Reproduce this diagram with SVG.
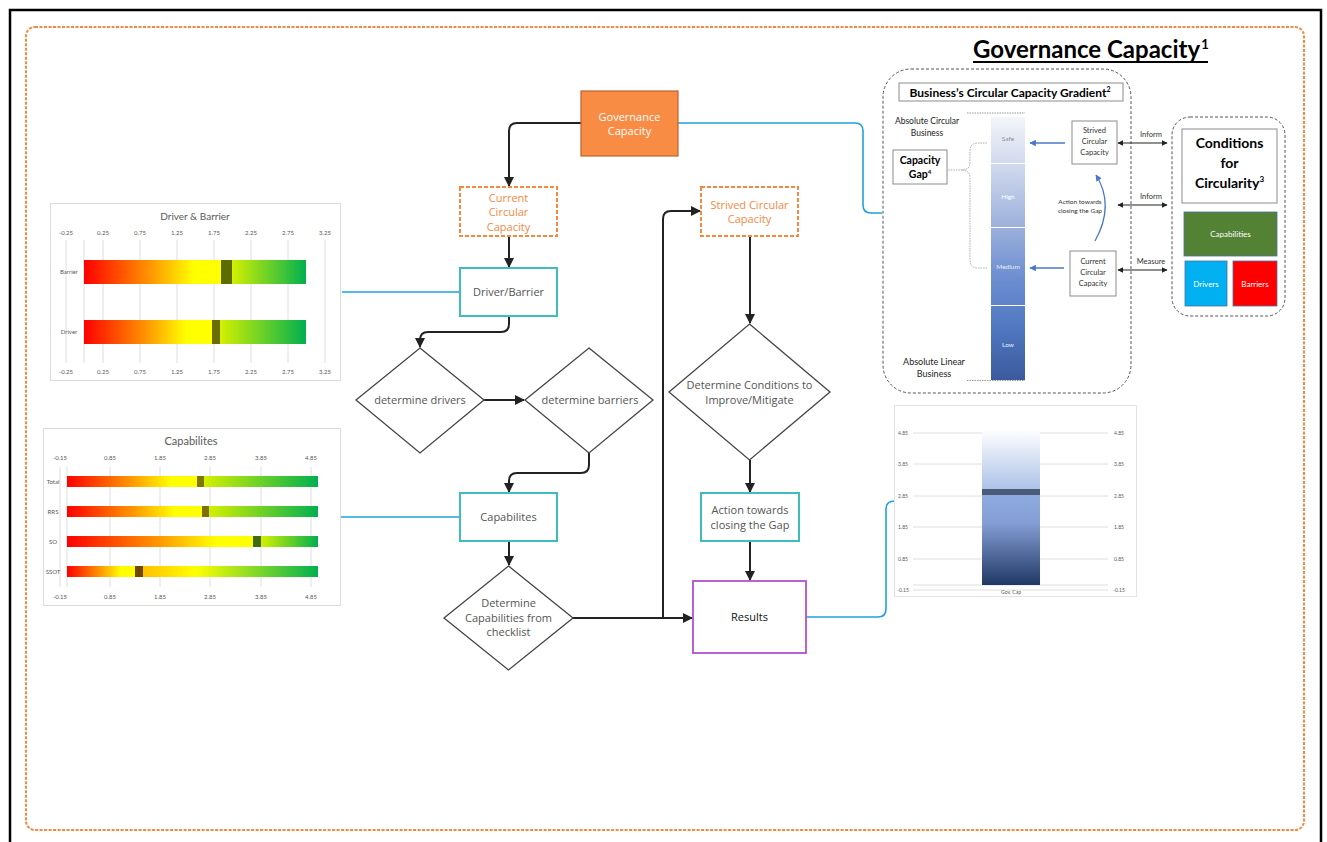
<svg xmlns="http://www.w3.org/2000/svg" width="1327" height="842" viewBox="0 0 1327 842">
  <defs>
    <style>
      .fc { font-family: "Open Sans", "Liberation Sans", sans-serif; font-size: 11px; fill: #555; text-anchor: middle; }
      .cal { font-family: Lato, "Liberation Sans", sans-serif; text-anchor: middle; }
      .conn { fill: none; stroke: #222; stroke-width: 2; marker-end: url(#ah); }
      .link { fill: none; stroke: #1fa2dc; stroke-width: 1.6; }
      .grid { stroke: #dedede; stroke-width: 1; }
      .ax { font-family: Lato, "Liberation Sans", sans-serif; font-size: 6px; fill: #595959; text-anchor: middle; }
      .teal { fill: #fff; stroke: #3dbdbd; stroke-width: 2; }
      .dorange { fill: #fff; stroke: #f7883f; stroke-width: 2; stroke-dasharray: 4 2; }
      .diam { fill: #fff; stroke: #444; stroke-width: 1.3; }
      .pbox { fill: #fff; stroke: #8c8c8c; stroke-width: 1; }
      .dbl { stroke: #222; stroke-width: 1.2; marker-start: url(#dh); marker-end: url(#dh); }
      .blu { fill: none; stroke: #4a78c8; stroke-width: 1.3; marker-end: url(#bh); }
    </style>
    <marker id="ah" viewBox="0 0 10 10" refX="9" refY="5" markerWidth="5" markerHeight="5" markerUnits="strokeWidth" orient="auto">
      <path d="M0,0 L10,5 L0,10 Z" fill="#222"/>
    </marker>
    <marker id="dh" viewBox="0 0 10 10" refX="9" refY="5" markerWidth="5" markerHeight="5" orient="auto-start-reverse">
      <path d="M0,0 L10,5 L0,10 Z" fill="#222"/>
    </marker>
    <marker id="bh" viewBox="0 0 10 10" refX="9" refY="5" markerWidth="5" markerHeight="5" orient="auto">
      <path d="M0,0 L10,5 L0,10 Z" fill="#4a78c8"/>
    </marker>
    <linearGradient id="gL" x1="0" y1="0" x2="1" y2="0">
      <stop offset="0" stop-color="#ff0000"/>
      <stop offset="0.5" stop-color="#ff9a00"/>
      <stop offset="0.8" stop-color="#ffff00"/>
      <stop offset="1" stop-color="#ffff00"/>
    </linearGradient>
    <linearGradient id="gR" x1="0" y1="0" x2="1" y2="0">
      <stop offset="0" stop-color="#d4f000"/>
      <stop offset="1" stop-color="#00b050"/>
    </linearGradient>
    <linearGradient id="gR2" x1="0" y1="0" x2="1" y2="0">
      <stop offset="0" stop-color="#ffc000"/>
      <stop offset="0.3" stop-color="#ffff00"/>
      <stop offset="1" stop-color="#00b050"/>
    </linearGradient>
    <linearGradient id="gGov" x1="0" y1="0" x2="0" y2="1">
      <stop offset="0" stop-color="#ffffff"/>
      <stop offset="0.38" stop-color="#aec3e8"/>
      <stop offset="0.42" stop-color="#8eabdf"/>
      <stop offset="0.6" stop-color="#859fd6"/>
      <stop offset="1" stop-color="#1f3864"/>
    </linearGradient>
    <linearGradient id="gBar" gradientUnits="userSpaceOnUse" x1="0" y1="117" x2="0" y2="380">
      <stop offset="0" stop-color="#f3f5fa"/>
      <stop offset="0.2" stop-color="#cdd6ec"/>
      <stop offset="0.42" stop-color="#9cb0dc"/>
      <stop offset="0.6" stop-color="#6f90d2"/>
      <stop offset="0.8" stop-color="#5078c2"/>
      <stop offset="1" stop-color="#3b5a9c"/>
    </linearGradient>
  </defs>

  <rect width="1327" height="842" fill="#fff"/>
  <!-- page frame -->
  <path d="M10,850 V10 H1321 V850" fill="none" stroke="#000" stroke-width="2.5"/>
  <rect x="26" y="27" width="1278" height="803" rx="9" fill="none" stroke="#f7883f" stroke-width="2" stroke-dasharray="3 1.5"/>

  <!-- title -->
  <g id="title">
    <text x="973" y="58" font-family="Lato, 'Liberation Sans', sans-serif" font-weight="bold" font-size="24" fill="#000">Governance Capacity<tspan font-size="13" dx="1" dy="-9">1</tspan></text>
    <line x1="973" y1="62" x2="1208" y2="62" stroke="#000" stroke-width="2"/>
  </g>

  <!-- connectors -->
  <g id="connectors">
    <path class="link" d="M678,123 H855 Q863,123 863,131 V205 Q863,213 871,213 H882"/>
    <path class="link" d="M460,292 H342"/>
    <path class="link" d="M460,517 H340"/>
    <path class="link" d="M806,617 H878 Q886,617 886,609 V509 Q886,501 895,501"/>

    <path class="conn" d="M581,123 H517 Q509,123 509,131 V186"/>
    <path class="conn" d="M509,236 V267"/>
    <path class="conn" d="M509,316 V324 Q509,332 501,332 H428 Q420,332 420,340 V347"/>
    <path class="conn" d="M484,400 H524"/>
    <path class="conn" d="M589,453 V465 Q589,473 581,473 H517 Q509,473 509,481 V492"/>
    <path class="conn" d="M509,541 V565"/>
    <path class="conn" d="M573,618 H692"/>
    <path class="conn" d="M663,618 V219 Q663,211 671,211 H700"/>
    <path class="conn" d="M750,236 V323"/>
    <path class="conn" d="M750,460 V492"/>
    <path class="conn" d="M750,541 V580"/>
  </g>

  <!-- flowchart nodes -->
  <g id="n-governance">
    <rect x="581" y="91" width="97" height="65" fill="#f98c44" stroke="#c2612a" stroke-width="1.2"/>
    <text class="fc" x="629.5" y="121" style="fill:#fff">Governance</text>
    <text class="fc" x="629.5" y="135" style="fill:#fff">Capacity</text>
  </g>
  <g id="n-current">
    <rect class="dorange" x="460" y="187" width="97" height="49"/>
    <text class="fc" x="508.5" y="202" style="fill:#f7883f">Current</text>
    <text class="fc" x="508.5" y="216" style="fill:#f7883f">Circular</text>
    <text class="fc" x="508.5" y="231" style="fill:#f7883f">Capacity</text>
  </g>
  <g id="n-strived">
    <rect class="dorange" x="701" y="187" width="97" height="49"/>
    <text class="fc" x="749.5" y="209" style="fill:#f7883f">Strived Circular</text>
    <text class="fc" x="749.5" y="223" style="fill:#f7883f">Capacity</text>
  </g>
  <g id="n-driverbarrier">
    <rect class="teal" x="460" y="268" width="97" height="48"/>
    <text class="fc" x="508.5" y="296">Driver/Barrier</text>
  </g>
  <g id="n-drivers">
    <path class="diam" d="M420,348 L484,400 L420,453 L356,400 Z"/>
    <text class="fc" x="420" y="404">determine drivers</text>
  </g>
  <g id="n-barriers">
    <path class="diam" d="M589,348 L653,400 L589,453 L525,400 Z"/>
    <text class="fc" x="590" y="404">determine barriers</text>
  </g>
  <g id="n-capabilites">
    <rect class="teal" x="460" y="493" width="97" height="48"/>
    <text class="fc" x="508.5" y="521">Capabilites</text>
  </g>
  <g id="n-checklist">
    <path class="diam" d="M508.5,566 L573,618 L508.5,670 L444,618 Z"/>
    <text class="fc" x="508.5" y="607">Determine</text>
    <text class="fc" x="508.5" y="622">Capabilities from</text>
    <text class="fc" x="508.5" y="636">checklist</text>
  </g>
  <g id="n-conditions">
    <path class="diam" d="M749.5,324 L830,392 L749.5,460 L669,392 Z"/>
    <text class="fc" x="749.5" y="389">Determine Conditions to</text>
    <text class="fc" x="749.5" y="404">Improve/Mitigate</text>
  </g>
  <g id="n-action">
    <rect class="teal" x="701" y="493" width="98" height="48"/>
    <text class="fc" x="750" y="514">Action towards</text>
    <text class="fc" x="750" y="529">closing the Gap</text>
  </g>
  <g id="n-results">
    <rect x="693" y="581" width="113" height="72" fill="#fff" stroke="#b54fd1" stroke-width="1.8"/>
    <text class="fc" x="749.5" y="621" style="fill:#111">Results</text>
  </g>

  <!-- Driver & Barrier chart -->
  <g id="chart-driver-barrier">
    <rect x="50.5" y="203.5" width="290" height="177" fill="#fff" stroke="#dcdcdc"/>
    <text class="cal" x="195" y="220" font-size="10" fill="#595959">Driver &amp; Barrier</text>
    <g class="grid">
      <line x1="66" y1="240" x2="66" y2="363"/><line x1="103" y1="240" x2="103" y2="363"/>
      <line x1="140" y1="240" x2="140" y2="363"/><line x1="177" y1="240" x2="177" y2="363"/>
      <line x1="214" y1="240" x2="214" y2="363"/><line x1="251" y1="240" x2="251" y2="363"/>
      <line x1="288" y1="240" x2="288" y2="363"/><line x1="325" y1="240" x2="325" y2="363"/>
      <line x1="84" y1="240" x2="84" y2="363"/>
    </g>
    <g class="ax">
      <text x="66" y="235">-0.25</text><text x="103" y="235">0.25</text><text x="140" y="235">0.75</text>
      <text x="177" y="235">1.25</text><text x="214" y="235">1.75</text><text x="251" y="235">2.25</text>
      <text x="288" y="235">2.75</text><text x="325" y="235">3.25</text>
      <text x="66" y="374">-0.25</text><text x="103" y="374">0.25</text><text x="140" y="374">0.75</text>
      <text x="177" y="374">1.25</text><text x="214" y="374">1.75</text><text x="251" y="374">2.25</text>
      <text x="288" y="374">2.75</text><text x="325" y="374">3.25</text>
      <text x="69" y="274">Barrier</text>
      <text x="69" y="334">Driver</text>
    </g>
    <rect x="84" y="260" width="137" height="24" fill="url(#gL)"/>
    <rect x="221" y="260" width="11" height="24" fill="#5d6c00"/>
    <rect x="232" y="260" width="74" height="24" fill="url(#gR)"/>
    <rect x="84" y="320" width="128" height="24" fill="url(#gL)"/>
    <rect x="212" y="320" width="8" height="24" fill="#6b6d00"/>
    <rect x="220" y="320" width="86" height="24" fill="url(#gR)"/>
  </g>

  <!-- Capabilites chart -->
  <g id="chart-capabilites">
    <rect x="43.5" y="428.5" width="297" height="177" fill="#fff" stroke="#dcdcdc"/>
    <text class="cal" x="191" y="445" font-size="11" fill="#595959">Capabilites</text>
    <g class="grid">
      <line x1="60" y1="467" x2="60" y2="587"/><line x1="67" y1="467" x2="67" y2="587"/>
      <line x1="110" y1="467" x2="110" y2="587"/><line x1="160" y1="467" x2="160" y2="587"/>
      <line x1="210" y1="467" x2="210" y2="587"/><line x1="261" y1="467" x2="261" y2="587"/>
      <line x1="311" y1="467" x2="311" y2="587"/>
    </g>
    <g class="ax">
      <text x="60" y="460">-0.15</text><text x="110" y="460">0.85</text><text x="160" y="460">1.85</text>
      <text x="210" y="460">2.85</text><text x="261" y="460">3.85</text><text x="311" y="460">4.85</text>
      <text x="60" y="599">-0.15</text><text x="110" y="599">0.85</text><text x="160" y="599">1.85</text>
      <text x="210" y="599">2.85</text><text x="261" y="599">3.85</text><text x="311" y="599">4.85</text>
      <text x="53" y="484">Total</text><text x="53" y="514">RRS</text>
      <text x="53" y="544">SO</text><text x="53" y="574">SSOT</text>
    </g>
    <rect x="67" y="476" width="130" height="11" fill="url(#gL)"/>
    <rect x="197" y="476" width="7" height="11" fill="#7f7800"/>
    <rect x="204" y="476" width="114" height="11" fill="url(#gR)"/>
    <rect x="67" y="506" width="135" height="11" fill="url(#gL)"/>
    <rect x="202" y="506" width="7" height="11" fill="#7a6f00"/>
    <rect x="209" y="506" width="109" height="11" fill="url(#gR)"/>
    <rect x="67" y="536" width="186" height="11" fill="url(#gL)"/>
    <rect x="253" y="536" width="8" height="11" fill="#3f6a12"/>
    <rect x="261" y="536" width="57" height="11" fill="url(#gR)"/>
    <rect x="67" y="566" width="68" height="11" fill="url(#gL)"/>
    <rect x="135" y="566" width="8" height="11" fill="#6e4800"/>
    <rect x="143" y="566" width="175" height="11" fill="url(#gR2)"/>
  </g>

  <!-- Gov. Cap chart -->
  <g id="chart-govcap">
    <rect x="894.5" y="405.5" width="242" height="191" fill="#fff" stroke="#e2e2e2"/>
    <g class="grid">
      <line x1="913" y1="433" x2="1108" y2="433"/><line x1="913" y1="464" x2="1108" y2="464"/>
      <line x1="913" y1="496" x2="1108" y2="496"/><line x1="913" y1="527" x2="1108" y2="527"/>
      <line x1="913" y1="559" x2="1108" y2="559"/><line x1="913" y1="590" x2="1108" y2="590"/>
      <line x1="913" y1="585" x2="1108" y2="585"/>
    </g>
    <g class="ax" style="font-size:5px">
      <text x="903" y="435">4.85</text><text x="903" y="466">3.85</text><text x="903" y="498">2.85</text>
      <text x="903" y="529">1.85</text><text x="903" y="561">0.85</text><text x="903" y="592">-0.15</text>
      <text x="1119" y="435">4.85</text><text x="1119" y="466">3.85</text><text x="1119" y="498">2.85</text>
      <text x="1119" y="529">1.85</text><text x="1119" y="561">0.85</text><text x="1119" y="592">-0.15</text>
      <text x="1011" y="594">Gov. Cap</text>
    </g>
    <rect x="982" y="429" width="58" height="156" fill="url(#gGov)"/>
    <rect x="982" y="489" width="58" height="6" fill="#4c5b7a"/>
  </g>

  <!-- capacity gradient panel -->
  <g id="gradient-panel">
    <rect x="883" y="69" width="248" height="324" rx="28" fill="none" stroke="#555" stroke-width="1" stroke-dasharray="3 2"/>
    <rect class="pbox" x="899" y="83" width="224" height="18"/>
    <text class="cal" x="1010" y="96.5" font-size="12" font-weight="bold" fill="#000">Business’s Circular Capacity Gradient<tspan font-size="7" dy="-4.5">2</tspan></text>
    <text class="cal" x="927" y="124" font-size="8.5" fill="#222">Absolute Circular</text>
    <text class="cal" x="927" y="136" font-size="8.5" fill="#222">Business</text>
    <text class="cal" x="934" y="365" font-size="9" fill="#222">Absolute Linear</text>
    <text class="cal" x="934" y="377" font-size="9" fill="#222">Business</text>
    <line x1="967" y1="113" x2="1025" y2="113" stroke="#999" stroke-width="1" stroke-dasharray="1.5 1"/>
    <line x1="967" y1="380.5" x2="1025" y2="380.5" stroke="#999" stroke-width="1" stroke-dasharray="1.5 1"/>
    <rect x="991" y="117" width="34" height="263" fill="url(#gBar)"/>
    <line x1="991" y1="163.5" x2="1025" y2="163.5" stroke="#fff" stroke-width="1"/>
    <line x1="991" y1="227.5" x2="1025" y2="227.5" stroke="#fff" stroke-width="1"/>
    <line x1="991" y1="305.5" x2="1025" y2="305.5" stroke="#fff" stroke-width="1"/>
    <text class="cal" x="1008" y="141" font-size="6.5" fill="#8a8a8a">Safe</text>
    <text class="cal" x="1008" y="199" font-size="6.5" fill="#fff">High</text>
    <text class="cal" x="1008" y="269" font-size="6.5" fill="#e8eef8">Medium</text>
    <text class="cal" x="1008" y="347" font-size="6.5" fill="#e8eef8">Low</text>
    <path d="M987,143 H978 Q970,143 970,151 V162 Q970,170 962,170 H947 M962,170 Q970,170 970,178 V260 Q970,268 978,268 H987" fill="none" stroke="#aaa" stroke-width="1" stroke-dasharray="1.5 1"/>
    <g id="n-capacity-gap">
      <rect class="pbox" x="893" y="150" width="54" height="34"/>
      <text class="cal" x="920" y="164" font-size="10.5" font-weight="bold" fill="#000">Capacity</text>
      <text class="cal" x="920" y="178" font-size="10.5" font-weight="bold" fill="#000">Gap<tspan font-size="6" dy="-4">4</tspan></text>
    </g>
    <g id="n-strived-small">
      <rect class="pbox" x="1072" y="121" width="45" height="43"/>
      <text class="cal" x="1094.5" y="133" font-size="7.5" fill="#333">Strived</text>
      <text class="cal" x="1094.5" y="144" font-size="7.5" fill="#333">Circular</text>
      <text class="cal" x="1094.5" y="155" font-size="7.5" fill="#333">Capacity</text>
    </g>
    <g id="n-current-small">
      <rect class="pbox" x="1070" y="251" width="46" height="45"/>
      <text class="cal" x="1093" y="264" font-size="7.5" fill="#333">Current</text>
      <text class="cal" x="1093" y="275" font-size="7.5" fill="#333">Circular</text>
      <text class="cal" x="1093" y="286" font-size="7.5" fill="#333">Capacity</text>
    </g>
    <path class="blu" d="M1065,143 H1030"/>
    <path class="blu" d="M1064,268 H1030"/>
    <path class="blu" d="M1095,241 Q1115,205 1096,175"/>
    <text class="cal" x="1080" y="204" font-size="6.5" fill="#333">Action towards</text>
    <text class="cal" x="1080" y="213" font-size="6.5" fill="#333">closing the Gap</text>
  </g>

  <!-- inform / measure links -->
  <g id="links-conditions">
    <line class="dbl" x1="1118" y1="143" x2="1167" y2="143"/>
    <line class="dbl" x1="1118" y1="205" x2="1167" y2="205"/>
    <line class="dbl" x1="1118" y1="270" x2="1167" y2="270"/>
    <text class="cal" x="1151" y="137" font-size="7.5" fill="#333">Inform</text>
    <text class="cal" x="1151" y="199" font-size="7.5" fill="#333">Inform</text>
    <text class="cal" x="1151" y="264" font-size="7.5" fill="#333">Measure</text>
  </g>

  <!-- conditions panel -->
  <g id="conditions-panel">
    <rect x="1172" y="117" width="113" height="199" rx="18" fill="none" stroke="#555" stroke-width="1" stroke-dasharray="3 2"/>
    <rect class="pbox" x="1182" y="129" width="95" height="74"/>
    <text class="cal" x="1229.5" y="148" font-size="14" font-weight="bold" fill="#000">Conditions</text>
    <text class="cal" x="1229.5" y="168" font-size="14" font-weight="bold" fill="#000">for</text>
    <text class="cal" x="1229.5" y="188" font-size="14" font-weight="bold" fill="#000">Circularity<tspan font-size="8" dy="-6">3</tspan></text>
    <g id="n-cap-box">
      <rect x="1184" y="212" width="93" height="44" fill="#548235" stroke="#4a6fa0" stroke-width="0.8"/>
      <text class="cal" x="1230.5" y="237" font-size="8" fill="#fff">Capabilities</text>
    </g>
    <g id="n-drivers-box">
      <rect x="1185" y="261" width="42" height="45" fill="#00b0f0" stroke="#4a6fa0" stroke-width="0.8"/>
      <text class="cal" x="1206" y="287" font-size="8" fill="#fff">Drivers</text>
    </g>
    <g id="n-barriers-box">
      <rect x="1233" y="261" width="44" height="45" fill="#ff0000" stroke="#4a6fa0" stroke-width="0.8"/>
      <text class="cal" x="1255" y="287" font-size="8" fill="#fff">Barriers</text>
    </g>
  </g>
</svg>
